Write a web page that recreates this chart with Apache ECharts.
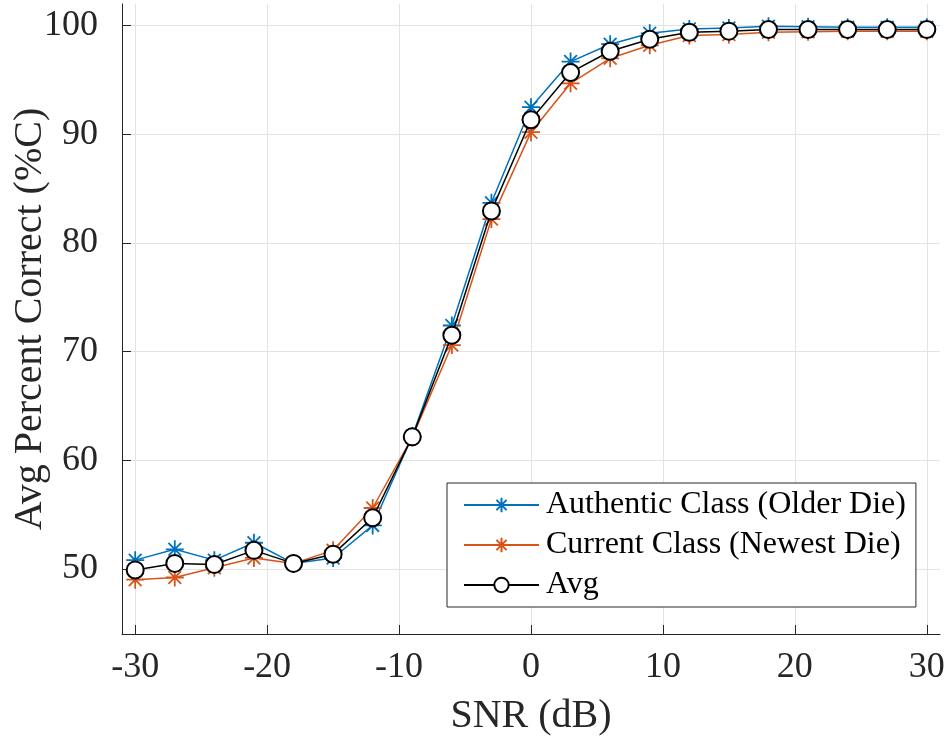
<!DOCTYPE html>
<html>
<head>
<meta charset="utf-8">
<script src="https://cdn.jsdelivr.net/npm/echarts@6/dist/echarts.min.js"></script>
<style>
  html, body { margin: 0; padding: 0; background: #fff; }
  #chart { width: 948px; height: 738px; }
</style>
</head>
<body>
<div id="chart"></div>
<script>
// SNR sweep (dB)
const snr = [-30, -27, -24, -21, -18, -15, -12, -9, -6, -3, 0, 3, 6, 9, 12, 15, 18, 21, 24, 27, 30];
// Average percent correct per class
const authentic = [50.8, 51.8, 50.8, 52.4, 50.5, 51.0, 54.0, 62.2, 72.4, 83.7, 92.5, 96.7, 98.3, 99.3, 99.7, 99.8, 99.95, 99.9, 99.85, 99.85, 99.85];
const current   = [49.0, 49.2, 50.1, 51.0, 50.5, 51.7, 55.6, 62.1, 70.6, 82.2, 90.2, 94.7, 97.0, 98.2, 99.1, 99.2, 99.4, 99.45, 99.5, 99.5, 99.5];
const avg       = [49.9, 50.5, 50.4, 51.7, 50.5, 51.35, 54.7, 62.15, 71.5, 82.95, 91.35, 95.7, 97.65, 98.75, 99.4, 99.5, 99.65, 99.65, 99.65, 99.65, 99.65];
const seriesNames = ['Authentic Class (Older Die)', 'Current Class (Newest Die)', 'Avg'];
const xTicks = [-30, -20, -10, 0, 10, 20, 30];
const yTicks = [50, 60, 70, 80, 90, 100];

const FONT = '"Liberation Serif", "Times New Roman", serif';
const star = 'path://M0,-1L0,1M-1,0L1,0M-0.7071,-0.7071L0.7071,0.7071M-0.7071,0.7071L0.7071,-0.7071';
const pair = ys => snr.map((x, i) => [x, ys[i]]);

const axisCommon = {
  axisLine: { show: true, onZero: false, lineStyle: { color: '#262626', width: 1 } },
  axisTick: { show: true, inside: true, length: 9, lineStyle: { color: '#262626', width: 1 } },
  splitLine: { show: true, lineStyle: { color: '#e3e3e3', width: 1 } },
  nameMoveOverlap: false,
  nameTextStyle: { fontFamily: FONT, fontSize: 40, color: '#262626' }
};

const chart = echarts.init(document.getElementById('chart'), null, { renderer: 'canvas' });
chart.setOption({
  backgroundColor: '#ffffff',
  animation: false,
  grid: { left: 122, right: 8, top: 4, bottom: 104, containLabel: false, outerBoundsMode: 'none' },
  xAxis: Object.assign({}, axisCommon, {
    type: 'value', min: -31, max: 31,
    name: 'SNR (dB)', nameLocation: 'middle', nameGap: 62,
    axisTick: Object.assign({}, axisCommon.axisTick, { customValues: xTicks }),
    axisLabel: { customValues: xTicks, fontFamily: FONT, fontSize: 36, color: '#262626', margin: 16 }
  }),
  yAxis: Object.assign({}, axisCommon, {
    type: 'value', min: 44, max: 102,
    name: 'Avg Percent Correct (%C)', nameLocation: 'middle', nameGap: 72,
    axisTick: Object.assign({}, axisCommon.axisTick, { customValues: yTicks }),
    axisLabel: { customValues: yTicks, fontFamily: FONT, fontSize: 36, color: '#262626', margin: 24 }
  }),
  legend: {
    orient: 'vertical',
    left: 447, top: 483,
    width: 468,
    padding: [6, 10, 6, 16],
    itemGap: 8,
    itemWidth: 75, itemHeight: 18,
    backgroundColor: '#ffffff',
    borderColor: '#262626', borderWidth: 1,
    textStyle: { fontFamily: FONT, fontSize: 32, color: '#000', lineHeight: 32, padding: [0, 0, 0, 2] },
    data: seriesNames
  },
  series: [
    {
      name: seriesNames[0], type: 'line', data: pair(authentic),
      symbol: star, symbolSize: 18,
      lineStyle: { color: '#0072BD', width: 1.5 },
      itemStyle: { color: 'rgba(0,0,0,0)', borderColor: '#0072BD', borderWidth: 1.8 },
      z: 2
    },
    {
      name: seriesNames[1], type: 'line', data: pair(current),
      symbol: star, symbolSize: 18,
      lineStyle: { color: '#D95319', width: 1.5 },
      itemStyle: { color: 'rgba(0,0,0,0)', borderColor: '#D95319', borderWidth: 1.8 },
      z: 3
    },
    {
      name: seriesNames[2], type: 'line', data: pair(avg),
      symbol: 'circle', symbolSize: 17,
      lineStyle: { color: '#000000', width: 1.5 },
      itemStyle: { color: '#ffffff', borderColor: '#000000', borderWidth: 2 },
      z: 4
    }
  ]
});
</script>
</body>
</html>
